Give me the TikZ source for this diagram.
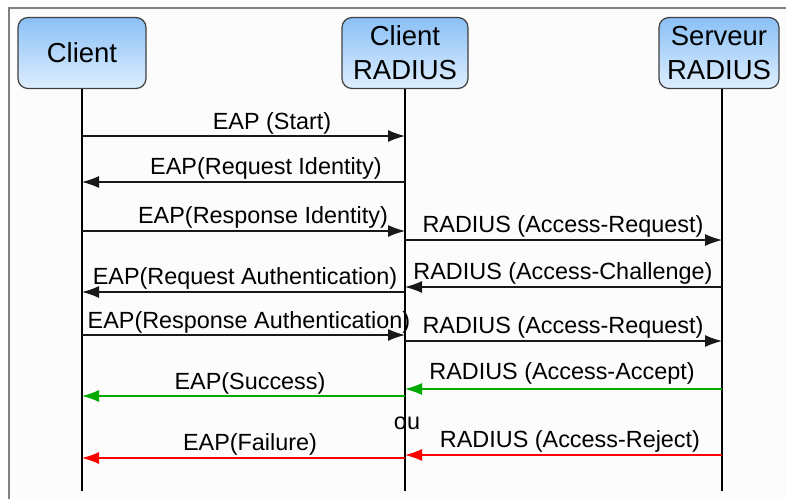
\documentclass[tikz,border=0pt]{standalone}
\usepackage{fontspec}
\setmainfont{Liberation Sans}
\usetikzlibrary{arrows.meta}
\usetikzlibrary{positioning}
\definecolor{boxtop}{RGB}{138,192,246}
\definecolor{boxbot}{RGB}{222,238,255}
\definecolor{okgreen}{RGB}{0,170,0}
\definecolor{kored}{RGB}{255,0,0}
\tikzset{entity/.style = {draw=black!75, line width=1.2, rounded corners=10, top color=boxtop, bottom color=boxbot, align=center, inner sep=0, minimum height=71, font=\fontsize{27.5}{34}\selectfont}}
\tikzset{life/.style = {line width=2}}
\tikzset{msg/.style = {line width=1.2, draw=black!90, -{Latex[length=17pt, width=12pt]}}}
\tikzset{lbl/.style = {anchor=base, inner sep=0, font=\fontsize{23.4}{28}\selectfont}}

\begin{document}
\begin{tikzpicture}[x=1pt, y=-1pt]
  \useasboundingbox (0, 0) rectangle (786, 499);
  \fill [white] (0, 0) rectangle (786, 499);
  \fill [black!1] (9, 8) rectangle (786, 499);
  \draw [gray, line width=2] (9, 499) -- (9, 8) -- (786, 8);

  \node [entity, minimum width=128] (cl) at (82, 53) {Client};
  \node [entity, minimum width=126] (cr) at (405, 53) {Client\\RADIUS};
  \node [entity, minimum width=120] (sr) at (719, 53) {Serveur\\RADIUS};
  \coordinate (srl) at ([xshift=3]sr.south);

  \draw [life] (cl.south) -- (cl.south |- 0, 491);
  \draw [life] (cr.south) -- (cr.south |- 0, 491);
  \draw [life] (srl) -- (srl |- 0, 491);

  \draw [msg] (cl |- 0, 136) -- (cr |- 0, 136);
  \node [lbl] (start) at (272, 129) {EAP (Start)};

  \draw [msg] (cr |- 0, 182) -- (cl |- 0, 182);
  \node [lbl] (reqid) at (266, 174) {EAP(Request Identity)};

  \draw [msg] (cl |- 0, 231) -- (cr |- 0, 231);
  \node [lbl] (resid) at (263, 223) {EAP(Response Identity)};
  \draw [msg] (cr |- 0, 240) -- (srl |- 0, 240);
  \node [lbl] (acreq) at (563, 232) {RADIUS (Access-Request)};

  \draw [msg] (cr |- 0, 292) -- (cl |- 0, 292);
  \node [lbl] (reqauth) at (245, 284) {EAP(Request Authentication)};
  \draw [msg] (srl |- 0, 287) -- (cr |- 0, 287);
  \node [lbl] (chal) at (563, 279) {RADIUS (Access-Challenge)};

  \draw [msg] (cl |- 0, 335) -- (cr |- 0, 335);
  \node [lbl] (resauth) at (249, 328) {EAP(Response Authentication)};
  \draw [msg] (cr |- 0, 341) -- (srl |- 0, 341);
  \node [lbl] (acreq2) at (563, 333) {RADIUS (Access-Request)};

  \draw [msg, draw=okgreen, -{Latex[length=17pt, width=12pt, okgreen]}] (srl |- 0, 389) -- (cr |- 0, 389);
  \node [lbl] (accept) at (562, 379) {RADIUS (Access-Accept)};
  \draw [msg, draw=okgreen, -{Latex[length=17pt, width=12pt, okgreen]}] (cr |- 0, 396) -- (cl |- 0, 396);
  \node [lbl] (success) at (250, 389) {EAP(Success)};

  \node [lbl] (ou) at (407, 429) {ou};

  \draw [msg, draw=kored, -{Latex[length=17pt, width=12pt, kored]}] (srl |- 0, 455) -- (cr |- 0, 455);
  \node [lbl] (reject) at (570, 447) {RADIUS (Access-Reject)};
  \draw [msg, draw=kored, -{Latex[length=17pt, width=12pt, kored]}] (cr |- 0, 458) -- (cl |- 0, 458);
  \node [lbl] (failure) at (250, 450) {EAP(Failure)};
\end{tikzpicture}
\end{document}
